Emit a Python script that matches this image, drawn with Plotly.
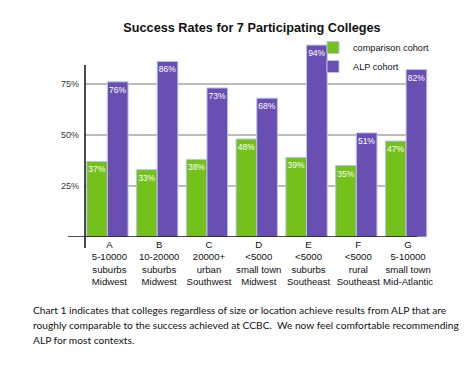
import plotly.graph_objects as go

colleges = ["A", "B", "C", "D", "E", "F", "G"]
sizes = ["5-10000", "10-20000", "20000+", "<5000", "<5000", "<5000", "5-10000"]
settings = ["suburbs", "suburbs", "urban", "small town", "suburbs", "rural", "small town"]
regions = ["Midwest", "Midwest", "Southwest", "Midwest", "Southeast", "Southeast", "Mid-Atlantic"]
comparison = [37, 33, 38, 48, 39, 35, 47]
alp = [76, 86, 73, 68, 94, 51, 82]
y_ticks = [25, 50, 75]
y_tick_text = ["25%", "50%", "75%"]

GREEN = "#74c11b"
PURPLE = "#6a4fb2"
EDGE = "#b9c3ef"

tick_text = [f"{c}<br>{s}<br>{t}<br>{r}" for c, s, t, r in zip(colleges, sizes, settings, regions)]

# page has an 8px body margin; work in screen coordinates and convert
OFF = 8
W, H = 474 - OFF, 371 - OFF
PL, PR, PT, PB = 85, 428, 41, 237          # plot area in screen px
L, R, T, B = PL - OFF, W - (PR - OFF), PT - OFF, H - (PB - OFF)
pw = PR - PL
ph = PB - PT

def px_x(x):
    return (x - PL) / pw

def px_y(y):
    return (PB - y) / ph

fig = go.Figure()
for name, vals, col in [("comparison cohort", comparison, GREEN), ("ALP cohort", alp, PURPLE)]:
    fig.add_trace(go.Bar(
        x=colleges, y=vals, name=name,
        marker=dict(color=col, line=dict(color=EDGE, width=1)),
        text=[f"{v}%" for v in vals], textposition="inside", textangle=0,
        insidetextanchor="end", constraintext="none",
        textfont=dict(color="white", size=8.5, family="Liberation Sans"),
        cliponaxis=False,
    ))

shapes = []
for v in y_ticks:
    shapes.append(dict(type="line", xref="paper", yref="y",
                       x0=px_x(85), x1=px_x(417), y0=v, y1=v,
                       line=dict(color="#a6a6a6", width=1.5), layer="below"))
shapes.append(dict(type="line", xref="paper", yref="y",
                   x0=px_x(68), x1=px_x(417), y0=0, y1=0,
                   line=dict(color="#111111", width=1.5)))
shapes.append(dict(type="line", xref="paper", yref="paper",
                   x0=0, x1=0, y0=px_y(248), y1=px_y(65),
                   line=dict(color="#111111", width=1.5)))

para = [
    "Chart 1 indicates that colleges regardless of size or location achieve results from ALP that are",
    "roughly comparable to the success achieved at CCBC.  We now feel comfortable recommending",
    "ALP for most contexts.",
]
annotations = []
for i, line in enumerate(para):
    annotations.append(dict(
        text=line, xref="paper", yref="paper", x=px_x(31), y=px_y(310 + 15 * i),
        xanchor="left", yanchor="middle", showarrow=False,
        font=dict(family="Lato", size=10.2, color="#111111"),
    ))

fig.update_layout(
    width=W, height=H,
    margin=dict(l=L, r=R, t=T, b=B, pad=0),
    paper_bgcolor="white", plot_bgcolor="white",
    barmode="group", bargap=0.17, bargroupgap=0,
    title=dict(text="<b>Success Rates for 7 Participating Colleges</b>",
               x=(252 - OFF) / W, xanchor="center", y=1 - (28 - OFF) / H, yanchor="middle",
               font=dict(family="Liberation Sans", size=12.7, color="#111111")),
    font=dict(family="Liberation Sans", color="#111111"),
    legend=dict(x=px_x(313), y=px_y(33), xanchor="left", yanchor="top",
                bgcolor="rgba(0,0,0,0)", font=dict(size=9.2, family="Liberation Sans"),
                tracegroupgap=0, itemwidth=30),
    xaxis=dict(range=[-0.45, 6.44], showgrid=False, showline=False, zeroline=False,
               ticks="", tickvals=colleges, ticktext=tick_text,
               tickfont=dict(size=9.6, family="Liberation Sans", color="#111111"),
               ticklabelshift=2, tickangle=0),
    yaxis=dict(range=[0, 96], showgrid=False, showline=False, zeroline=False,
               ticks="", tickvals=y_ticks, ticktext=[t + "\u00a0\u00a0" for t in y_tick_text],
               tickfont=dict(size=9, family="Liberation Sans", color="#333333")),
    shapes=shapes,
    annotations=annotations,
)

fig.write_html("out.html")
